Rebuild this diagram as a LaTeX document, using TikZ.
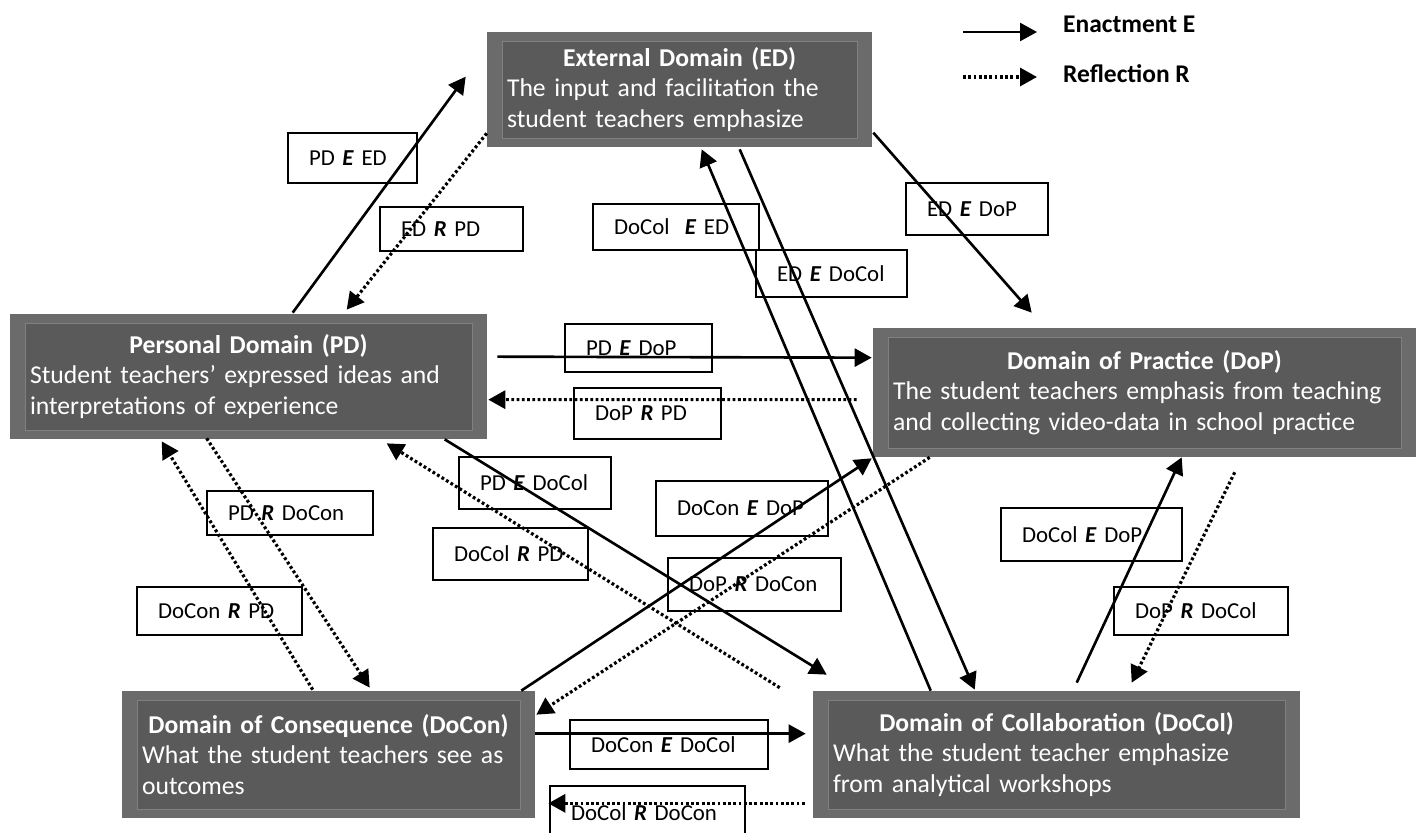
\documentclass[tikz,border=0pt]{standalone}
\usepackage{fontspec}
\setmainfont{Carlito}
\usetikzlibrary{arrows.meta, calc}
\definecolor{domout}{HTML}{6B6B6B}
\definecolor{domin}{HTML}{5A5A5A}
\newcommand{\ebf}{\textbf{\textit{E}}}
\newcommand{\rbf}{\textbf{\textit{R}}}

\begin{document}
\begin{tikzpicture}[x=0.02cm, y=-0.02cm,
        dombox/.style={rectangle, fill=domout, text=white, align=left, inner xsep=0.4cm, inner ysep=0.15cm,
            font=\fontsize{14.6}{17.5}\selectfont,
            path picture={\fill[domin, draw=black!50, line width=0.3pt]
                ([shift={(0.3cm,0.18cm)}]path picture bounding box.south west) rectangle
                ([shift={(-0.3cm,-0.18cm)}]path picture bounding box.north east);}},
        lbl/.style={rectangle, draw=black, line width=1pt, align=left, inner xsep=0.42cm, inner ysep=0pt,
            font=\fontsize{13}{15.5}\selectfont,
            execute at begin node=\hbox\bgroup, execute at end node=\egroup},
        enact/.style={line width=1.5pt, -{Triangle[length=0.34cm, width=0.36cm]}},
        reflect/.style={line width=1.8pt, dash pattern=on 1.6pt off 1.4pt, -{Triangle[length=0.34cm, width=0.36cm]}},
    ]
    \path[use as bounding box, fill=white] (0,0) rectangle (1417,832);

    % Domains
    \node[dombox, minimum width=7.7cm, minimum height=2.3cm, text width=6.9cm] (ed) at (679.5,89.5)
        {{\centering\textbf{External Domain (ED)}\par}The input and facilitation the\\student teachers emphasize};
    \node[dombox, minimum width=9.54cm, minimum height=2.5cm, text width=8.74cm] (pd) at (248.5,376.5)
        {{\centering\textbf{Personal Domain (PD)}\par}Student teachers’ expressed ideas and\\interpretations of experience};
    \node[dombox, minimum width=10.86cm, minimum height=2.58cm, text width=10.06cm] (dop) at (1144.5,392.5)
        {{\centering\textbf{Domain of Practice (DoP)}\par}The student teachers emphasis from teaching\\and collecting video-data in school practice};
    \node[dombox, minimum width=8.26cm, minimum height=2.54cm, text width=7.46cm] (docon) at (328.5,754.5)
        {{\centering\textbf{Domain of Consequence (DoCon)}\par}What the student teachers see as\\outcomes};
    \node[dombox, minimum width=9.74cm, minimum height=2.54cm, text width=8.94cm] (docol) at (1056.5,754.5)
        {{\centering\textbf{Domain of Collaboration (DoCol)}\par}What the student teacher emphasize\\from analytical workshops};

    % Labels
    \node[lbl, text width=1.74cm, minimum height=1.0cm] (pdEed) at (352.5,158) {PD \ebf\ ED};
    \node[lbl, text width=2.02cm, minimum height=0.88cm] (edRpd) at (451.5,229) {ED \rbf\ PD};
    \node[lbl, text width=2.48cm, minimum height=0.92cm] (docolEed) at (676,227) {DoCol\ \ \ebf\ ED};
    \node[lbl, text width=2.18cm, minimum height=0.94cm] (edEdocol) at (831.5,273.5) {ED \ebf\ DoCol};
    \node[lbl, text width=2.00cm, minimum height=1.04cm] (edEdop) at (977,209) {ED \ebf\ DoP};
    \node[lbl, text width=2.10cm, minimum height=0.96cm] (pdEdop) at (638.5,348) {PD \ebf\ DoP};
    \node[lbl, text width=2.10cm, minimum height=1.02cm] (dopRpd) at (647.5,413.5) {DoP \rbf\ PD};
    \node[lbl, text width=2.20cm, minimum height=1.04cm] (pdEdocol) at (535,483) {PD \ebf\ DoCol};
    \node[lbl, text width=2.26cm, minimum height=1.04cm] (docolRpd) at (510.5,554) {DoCol \rbf\ PD};
    \node[lbl, text width=2.60cm, minimum height=1.10cm] (doconEdop) at (742,508.5) {DoCon \ebf\ DoP};
    \node[lbl, text width=2.62cm, minimum height=1.06cm] (dopRdocon) at (754.5,584.5) {DoP \rbf\ DoCon};
    \node[lbl, text width=2.48cm, minimum height=0.88cm] (pdRdocon) at (290,513) {PD \rbf\ DoCon};
    \node[lbl, text width=2.46cm, minimum height=0.96cm] (doconRpd) at (219.5,611) {DoCon \rbf\ PD};
    \node[lbl, text width=2.78cm, minimum height=1.06cm] (docolEdop) at (1091.5,534.5) {DoCol \ebf\ DoP};
    \node[lbl, text width=2.64cm, minimum height=0.96cm] (dopRdocol) at (1201,611) {DoP \rbf\ DoCol};
    \node[lbl, text width=3.12cm, minimum height=0.98cm] (doconEdocol) at (669,744.5) {DoCon \ebf\ DoCol};
    \node[lbl, text width=3.06cm, minimum height=1.08cm] (docolRdocon) at (647.5,813) {DoCol \rbf\ DoCon};

    % Enactment and reflection
    \draw[enact] ($(pd.north west)+(283,-1)$) -- ($(ed.north west)+(-21,45)$);
    \draw[reflect] ($(ed.south west)+(0,-14)$) -- ($(pd.north west)+(337,-4)$);
    \draw[enact] ($(docol.north west)+(118,0)$) -- ($(ed.south west)+(215,2)$);
    \draw[enact] ($(ed.south west)+(253,2)$) -- ($(docol.north west)+(162,-1)$);
    \draw[enact] ($(ed.north east)+(1,101)$) -- ($(dop.north west)+(159,-15)$);
    \draw[enact] ($(pd.north east)+(10,43)$) -- ($(dop.north west)+(-1,30)$);
    \draw[reflect] ($(dop.north west)+(-16,72)$) -- ($(pd.north east)+(1,86)$);
    \draw[enact] ($(pd.south west)+(435,0)$) -- ($(docol.north west)+(14,-16)$);
    \draw[reflect] ($(docol.north west)+(-33,-3)$) -- ($(pd.south west)+(377,4)$);
    \draw[enact] ($(docon.north east)+(-14,0)$) -- ($(dop.south west)+(-1,1)$);
    \draw[reflect] ($(dop.south west)+(57,0)$) -- ($(docon.north east)+(1,24)$);
    \draw[reflect] ($(pd.south west)+(197,-1)$) -- ($(docon.north west)+(248,-3)$);
    \draw[reflect] ($(docon.north west)+(191,-1)$) -- ($(pd.south west)+(152,2)$);
    \draw[enact] ($(docol.north west)+(264,-8)$) -- ($(dop.south west)+(309,0)$);
    \draw[reflect] ($(dop.south west)+(362,15)$) -- ($(docol.north west)+(319,-8)$);
    \draw[enact] ($(docon.north east)+(0,43)$) -- ($(docol.north west)+(-7,43)$);
    \draw[reflect] ($(docol.south west)+(-8,-15)$) -- ($(docon.south east)+(13,-15)$);

    % Legend
    \coordinate (lgEa) at (963,32); \coordinate (lgEb) at (1037,32);
    \coordinate (lgRa) at (963,77); \coordinate (lgRb) at (1037,77);
    \draw[enact] (lgEa) -- (lgEb);
    \draw[reflect] (lgRa) -- (lgRb);
    \node[anchor=base west, font=\bfseries\fontsize{14.5}{17}\selectfont] (lgE) at (1057,32) {Enactment E};
    \node[anchor=base west, font=\bfseries\fontsize{14.5}{17}\selectfont] (lgR) at (1057,82) {Reflection R};
\end{tikzpicture}
\end{document}
